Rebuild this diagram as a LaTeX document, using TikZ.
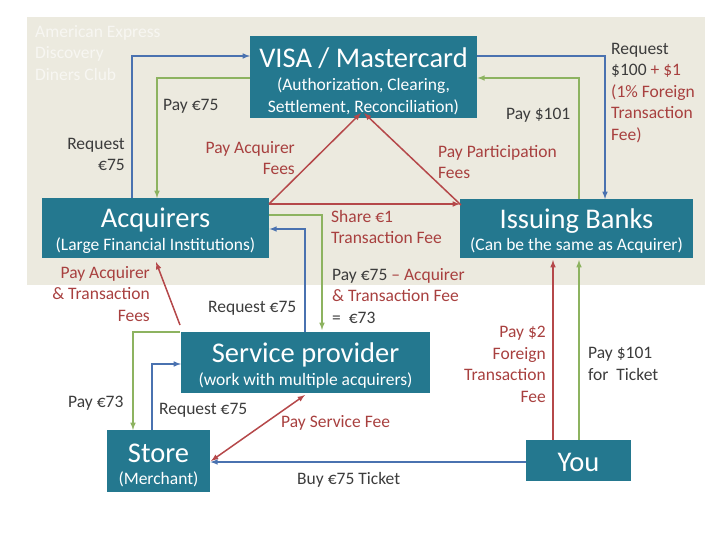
\documentclass[tikz,border=0pt]{standalone}
\usepackage{fontspec}
\setmainfont{Carlito}
\begin{document}
\definecolor{teal}{HTML}{24788F}
\definecolor{bg}{HTML}{ECEADF}
\definecolor{ablue}{HTML}{4A72B0}
\definecolor{agreen}{HTML}{8DB360}
\definecolor{ared}{HTML}{B5484A}
\definecolor{lbl}{HTML}{3C3C3C}
\definecolor{fred}{HTML}{A8403F}
\begin{tikzpicture}[x=1pt,y=-1pt,
 box/.style={fill=teal,text=white,align=center,inner sep=0pt,anchor=north west},
 b/.style={ablue,line width=1.5pt,-latex},
 g/.style={agreen,line width=1.5pt,-latex},
 r/.style={ared,line width=1.5pt,-latex},
 lab/.style={text=lbl,font=\fontsize{17.5}{21.5}\selectfont,align=left,inner sep=0pt},
 rlab/.style={text=fred,font=\fontsize{17.5}{21.5}\selectfont,align=left,inner sep=0pt},
 tt/.style={text=white,font=\fontsize{28.5}{32}\selectfont},
 ts/.style={text=white,font=\fontsize{17.5}{22}\selectfont,align=center}]
\useasboundingbox (0,0) rectangle (720,540);
\fill[bg] (27,17) rectangle (705,285);
\node[text=white,opacity=0.6,anchor=north west,align=left,inner sep=0pt,font=\fontsize{17.5}{21.5}\selectfont] (amex) at (35,25) {American Express\\Discovery\\Diners Club};
\node[box,minimum width=227,minimum height=82] (visa) at (250,36) {};
\node[tt] (visat) at (363.5,58) {VISA / Mastercard};
\node[ts] (visas) at (363.5,96) {(Authorization, Clearing,\\Settlement, Reconciliation)};
\node[box,minimum width=227,minimum height=60] (acq) at (42,198) {};
\node[tt] (acqt) at (155.5,220) {Acquirers};
\node[ts] (acqs) at (155.5,246) {(Large Financial Institutions)};
\node[box,minimum width=233,minimum height=59] (iss) at (460,199) {};
\node[tt] (isst) at (576.5,221) {Issuing Banks};
\node[ts] (isss) at (576.5,246) {(Can be the same as Acquirer)};
\node[box,minimum width=249,minimum height=61] (sp) at (181,332) {};
\node[tt] (spt) at (305.5,355) {Service provider};
\node[ts] (sps) at (305.5,381) {(work with multiple acquirers)};
\node[box,minimum width=103,minimum height=62] (st) at (107,430) {};
\node[tt] (stt) at (158.5,453) {Store};
\node[ts] (sts) at (158.5,479) {(Merchant)};
\node[box,minimum width=105,minimum height=41] (you) at (526,440) {};
\node[tt] (yout) at (578.5,462) {You};
% connectors
\draw[b] (acq.north west -| 132,0) -- (132,56) -- (visa.west |- 0,56);
\draw[g] (visa.west |- 0,78) -- (157,78) -- (acq.north west -| 157,0);
\draw[b] (visa.east |- 0,56) -- (605,56) -- (iss.north west -| 605,0);
\draw[g] (iss.north west -| 579,0) -- (579,78) -- (visa.east |- 0,78);
\coordinate (acqc) at (269,204);
\draw[r] (acqc) -- (361,113);
\draw[r] (acqc) -- (iss.west |- 0,204);
\draw[r] (461,205) -- (364,113);
\draw[g] (acq.east |- 0,215) -- (322,215) -- (322,330);
\draw[b] (305,332) -- (305,229) -- (acq.east |- 0,229);
\draw[r] (180,325) -- (156,262);
\draw[g] (180,332) -- (133,332) -- (st.north west -| 133,0);
\draw[b] (152,430) -- (152,364) -- (sp.west |- 0,364);
\draw[r,latex-latex] (211,461) -- (305,395);
\draw[b] (you.west |- 0,462) -- (st.east |- 0,462);
\draw[r] (553,440) -- (553,260);
\draw[g] (579,440) -- (579,260);
% labels
\node[lab,anchor=north west] (l1) at (163,99) {Pay €75};
\node[lab,anchor=north east,align=right] (l2) at (125,138) {Request\\€75};
\node[rlab,anchor=north east,align=right] (l3) at (295,141) {Pay Acquirer\\Fees};
\node[rlab,anchor=north west] (l4) at (438,145) {Pay Participation\\Fees};
\node[lab,anchor=north west] (l5) at (506,108) {Pay \$101};
\node[lab,anchor=north west] (l6) at (611,43) {Request\\\$100 \textcolor{fred}{+ \$1}\\\textcolor{fred}{(1\% Foreign}\\\textcolor{fred}{Transaction}\\\textcolor{fred}{Fee)}};
\node[rlab,anchor=north west] (l7) at (331,210) {Share €1\\Transaction Fee};
\node[lab,anchor=north west] (l8) at (332,268) {Pay €75 \textcolor{fred}{– Acquirer}\\\textcolor{fred}{\& Transaction Fee}\\=~ €73};
\node[rlab,anchor=north east,align=right] (l9) at (150,266) {Pay Acquirer\\\& Transaction\\Fees};
\node[lab,anchor=north west] (l10) at (208,301) {Request €75};
\node[lab,anchor=north west] (l11) at (68,396) {Pay €73};
\node[lab,anchor=north west] (l12) at (159,403) {Request €75};
\node[rlab,anchor=north west] (l13) at (281,415) {Pay Service Fee};
\node[lab,anchor=north west] (l14) at (297,472) {Buy €75 Ticket};
\node[rlab,anchor=north east,align=right] (l15) at (546,326) {Pay \$2\\Foreign\\Transaction\\Fee};
\node[lab,anchor=north west] (l16) at (588,347) {Pay \$101\\for~ Ticket};
\end{tikzpicture}
\end{document}
